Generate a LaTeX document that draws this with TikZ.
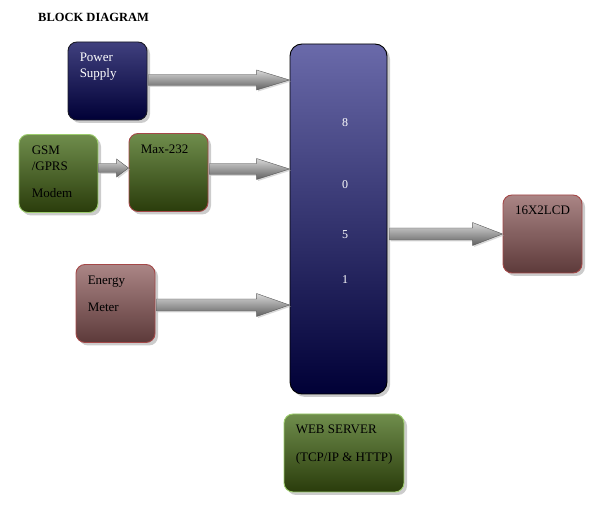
\documentclass[tikz,border=0pt]{standalone}
\usepackage{fontspec}
\setmainfont{Liberation Serif}
\usetikzlibrary{calc,shadows}
\definecolor{blueTop}{HTML}{40407E}
\definecolor{blueTopL}{HTML}{6A6AAA}
\definecolor{blueBot}{HTML}{000036}
\definecolor{blueBorder}{HTML}{1A1A26}
\definecolor{greenTop}{HTML}{6F8D4C}
\definecolor{greenBot}{HTML}{2A3C0B}
\definecolor{greenBorder}{HTML}{9CCC6C}
\definecolor{brownTop}{HTML}{AA8585}
\definecolor{brownBot}{HTML}{5D3A3A}
\definecolor{redBorder}{HTML}{A44848}
\newcommand\fatarrow[5]{% start, end, shaft half, head half, head length
  \shade[top color=gray!30, bottom color=gray!75!black, draw=gray!70!black, line width=0.4pt,
         drop shadow={shadow xshift=1.5pt, shadow yshift=-1.5pt, fill=black!30, opacity=0.5}]
    ($(#1)+(0,#3)$) -- ($(#2)+(-#5,#3)$) -- ($(#2)+(-#5,#4)$) -- (#2)
    -- ($(#2)+(-#5,-#4)$) -- ($(#2)+(-#5,-#3)$) -- ($(#1)+(0,-#3)$) -- cycle;}
\begin{document}
\begin{tikzpicture}[x=1pt,y=1pt,
  font=\fontsize{13}{15}\selectfont,
  blk/.style={rounded corners=9pt, inner sep=0pt, minimum width=79pt, minimum height=78pt,
    line width=0.9pt, drop shadow={shadow xshift=3pt, shadow yshift=-3pt, fill=black!40, opacity=0.5}},
  bluebox/.style={blk, top color=blueTop, bottom color=blueBot, draw=blueBorder},
  greenbox/.style={blk, top color=greenTop, bottom color=greenBot, draw=greenBorder},
  greenredbox/.style={blk, top color=greenTop, bottom color=greenBot, draw=redBorder},
  brownbox/.style={blk, top color=brownTop, bottom color=brownBot, draw=redBorder},
  txt/.style={anchor=base west, inner sep=0pt, text=black},
  wtxt/.style={anchor=base west, inner sep=0pt, text=white},
  digit/.style={anchor=base, inner sep=0pt, text=white, font=\fontsize{12}{14}\selectfont}]
\useasboundingbox (0,0) rectangle (595,509);

\node[anchor=base west, inner sep=0pt, font=\bfseries\fontsize{12.5}{14}\selectfont] (title) at (38,487) {BLOCK DIAGRAM};

% boxes
\node[bluebox] (ps) at (107.5,428) {};
\node[greenbox] (gsm) at (58.5,335.5) {};
\node[greenredbox] (max) at (168.5,336.5) {};
\node[brownbox] (em) at (115.5,205.5) {};
\node[blk, top color=blueTopL, bottom color=blueBot, draw=black, rounded corners=12pt,
      minimum width=97pt, minimum height=350pt] (mcu) at (338.5,290) {};
\node[brownbox] (lcd) at (542.5,275) {};
\node[greenbox, minimum width=120pt] (web) at (344,56) {};

% texts
\node[wtxt] (t1) at ($(ps.north west)+(12,-20)$) {Power};
\node[wtxt] (t2) at ($(ps.north west)+(12,-36)$) {Supply};
\node[txt] (t3) at ($(gsm.north west)+(13,-20)$) {GSM};
\node[txt] (t4) at ($(gsm.north west)+(13,-36)$) {/GPRS};
\node[txt] (t5) at ($(gsm.north west)+(13,-63)$) {Modem};
\node[txt] (t6) at ($(max.north west)+(12,-20)$) {Max-232};
\node[txt] (t7) at ($(em.north west)+(12,-20)$) {Energy};
\node[txt] (t8) at ($(em.north west)+(12,-47)$) {Meter};
\node[digit] (d1) at ($(mcu.north)+(6.5,-83)$) {8};
\node[digit] (d2) at ($(mcu.north)+(6.5,-145)$) {0};
\node[digit] (d3) at ($(mcu.north)+(6.5,-195)$) {5};
\node[digit] (d4) at ($(mcu.north)+(6.5,-240)$) {1};
\node[anchor=base, inner sep=0pt] (t9) at ($(lcd.north)+(0,-20)$) {16X2LCD};
\node[txt] (t10) at ($(web.north west)+(12,-20)$) {WEB SERVER};
\node[txt] (t11) at ($(web.north west)+(12,-48)$) {(TCP/IP \& HTTP)};

% connectors
\coordinate (a1s) at ($(ps.east)+(1,1)$);
\coordinate (a1e) at (mcu.west |- a1s);
\fatarrow{a1s}{a1e}{5.5}{10}{33}
\coordinate (a2s) at ($(gsm.east)+(0,5.5)$);
\coordinate (a2e) at (max.west |- a2s);
\fatarrow{a2s}{a2e}{4.5}{9}{12}
\coordinate (a3s) at ($(max.east)+(1,3.5)$);
\coordinate (a3e) at (mcu.west |- a3s);
\fatarrow{a3s}{a3e}{5.5}{10.5}{33}
\coordinate (a4s) at ($(em.east)+(1,-1.5)$);
\coordinate (a4e) at (mcu.west |- a4s);
\fatarrow{a4s}{a4e}{6}{11.5}{33}
\coordinate (a5s) at ($(mcu.east |- lcd.west)+(2,0)$);
\coordinate (a5e) at (lcd.west);
\fatarrow{a5s}{a5e}{6}{11.5}{30}
\end{tikzpicture}
\end{document}
